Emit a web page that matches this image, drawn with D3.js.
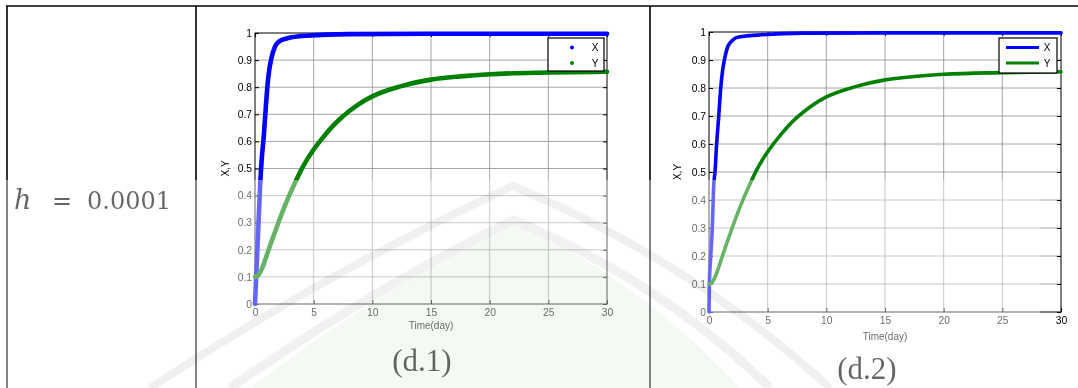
<!DOCTYPE html>
<html>
<head>
<meta charset="utf-8">
<script src="https://cdn.jsdelivr.net/npm/d3@7"></script>
<style>
  html, body { margin: 0; padding: 0; background: #fff; }
  svg { display: block; }
</style>
</head>
<body>
<svg id="page" width="1078" height="388"></svg>
<script>
// ---- data -------------------------------------------------------------
const timeTicks  = [0, 5, 10, 15, 20, 25, 30];
const valueTicks = [0, 0.1, 0.2, 0.3, 0.4, 0.5, 0.6, 0.7, 0.8, 0.9, 1];
const seriesNames = ["X", "Y"];
const stepLabel = "h = 0.0001";
const captions = ["(d.1)", "(d.2)"];

// panel (d.1)
const tX1 = [0, 0.1, 0.2, 0.3, 0.45, 0.6, 0.71, 0.88, 1.05, 1.2, 1.36, 1.7, 2.1, 2.7, 4.4, 8, 15, 30];
const vX1 = [0, 0.1, 0.2, 0.3, 0.45, 0.55, 0.6, 0.7, 0.8, 0.86, 0.9, 0.95, 0.97, 0.98, 0.99, 0.996, 0.997, 0.997];
const tY1 = [0, 0.25, 0.5, 0.75, 1.08, 1.5, 1.99, 2.45, 2.93, 3.5, 4.1, 5, 5.8, 6.66, 7.5, 8.7, 10, 12.4, 15, 17.5, 20, 25, 30];
const vY1 = [0.1, 0.105, 0.122, 0.148, 0.19, 0.242, 0.3, 0.352, 0.402, 0.456, 0.508, 0.57, 0.615, 0.658, 0.693, 0.733, 0.766, 0.803, 0.828, 0.84, 0.848, 0.854, 0.857];

// panel (d.2)
const tX2 = [0, 0.03, 0.15, 0.28, 0.4, 0.51, 0.65, 0.83, 1.0, 1.15, 1.31, 1.62, 2.0, 2.33, 3, 4.5, 8, 15, 30];
const vX2 = [0, 0.1, 0.2, 0.3, 0.45, 0.5, 0.6, 0.7, 0.8, 0.86, 0.9, 0.95, 0.97, 0.98, 0.985, 0.99, 0.996, 0.997, 0.997];
const tY2 = [0, 0.25, 0.5, 0.75, 1.08, 1.5, 1.99, 2.45, 2.93, 3.5, 4.1, 5, 5.8, 6.66, 7.5, 8.7, 10, 12.4, 15, 17.5, 20, 25, 30];
const vY2 = [0.1, 0.105, 0.123, 0.15, 0.192, 0.244, 0.302, 0.354, 0.404, 0.458, 0.51, 0.572, 0.617, 0.66, 0.695, 0.735, 0.768, 0.804, 0.829, 0.841, 0.849, 0.855, 0.858];

// ---- layout -----------------------------------------------------------
const svg = d3.select("#page");
const BLUE = "#0000ff", GREEN = "#008000";
const SANS = "'Liberation Sans', Arial, sans-serif";
const TICK_FONT = 10.3;

// table rules
const rules = svg.append("g").attr("stroke", "#000").attr("stroke-width", 1.6);
rules.append("line").attr("x1", 6).attr("x2", 1078).attr("y1", 6).attr("y2", 6);
[7, 196, 650].forEach(x => rules.append("line").attr("x1", x).attr("x2", x).attr("y1", 6).attr("y2", 388));

// row header (math style)
const hdr = svg.append("text").attr("y", 209).attr("font-family", "'DejaVu Serif', serif").attr("font-size", 24).attr("fill", "#000");
const parts = stepLabel.split(" ");
hdr.append("tspan").attr("x", 14).attr("font-style", "italic").attr("font-size", 27).text(parts[0]);
hdr.append("tspan").attr("x", 52).text(parts[1]);
hdr.append("tspan").attr("x", 87).text(parts[2]);

const panels = [
  { left: 255, right: 607, top: 33, bottom: 304, marker: "dot",
    series: [[tX1, vX1], [tY1, vY1]], lw: 4.6,
    ylabX: 225, xlabY: 329, capX: 422, capY: 371,
    legend: { x: 548, y: 38, w: 56, h: 33 } },
  { left: 709, right: 1061, top: 32, bottom: 312, marker: "line",
    series: [[tX2, vX2], [tY2, vY2]], lw: 3.6,
    ylabX: 677, xlabY: 340, capX: 867, capY: 379,
    legend: { x: 999, y: 38, w: 58, h: 35 } }
];

panels.forEach((p, pi) => {
  const x = d3.scaleLinear().domain([0, 30]).range([p.left, p.right]);
  const y = d3.scaleLinear().domain([0, 1]).range([p.bottom, p.top]);
  const g = svg.append("g");

  // grid
  const grid = g.append("g").attr("stroke", "#8e8e8e").attr("stroke-width", 0.8);
  timeTicks.slice(1, -1).forEach(t => grid.append("line")
    .attr("x1", x(t)).attr("x2", x(t)).attr("y1", p.top).attr("y2", p.bottom));
  valueTicks.slice(1, -1).forEach(v => grid.append("line")
    .attr("x1", p.left).attr("x2", p.right).attr("y1", y(v)).attr("y2", y(v)));

  // axes (ticks pointing inward, mirrored on top/right)
  const styleAxis = sel => {
    sel.select(".domain").remove();
    sel.selectAll("line").attr("stroke", "#000");
    sel.selectAll("text").attr("font-family", SANS).attr("font-size", TICK_FONT).attr("fill", "#000");
  };
  g.append("g").attr("transform", `translate(0,${p.bottom})`)
    .call(d3.axisBottom(x).tickValues(timeTicks).tickSize(-4).tickPadding(5).tickFormat(d3.format("d")))
    .call(styleAxis);
  g.append("g").attr("transform", `translate(${p.left},0)`)
    .call(d3.axisLeft(y).tickValues(valueTicks).tickSize(-4).tickPadding(3).tickFormat(d => d === 0 || d === 1 ? String(d) : d3.format(".1f")(d)))
    .call(styleAxis);
  g.append("g").attr("transform", `translate(0,${p.top})`)
    .call(d3.axisTop(x).tickValues(timeTicks).tickSize(-4).tickFormat(""))
    .call(styleAxis);
  g.append("g").attr("transform", `translate(${p.right},0)`)
    .call(d3.axisRight(y).tickValues(valueTicks).tickSize(-4).tickFormat(""))
    .call(styleAxis);

  g.append("rect").attr("x", p.left).attr("y", p.top)
    .attr("width", p.right - p.left).attr("height", p.bottom - p.top)
    .attr("fill", "none").attr("stroke", "#000").attr("stroke-width", 1);

  // axis titles
  g.append("text").attr("x", (p.left + p.right) / 2).attr("y", p.xlabY)
    .attr("text-anchor", "middle").attr("font-family", SANS).attr("font-size", 10).text("Time(day)");
  g.append("text").attr("transform", `translate(${p.ylabX},${(p.top + p.bottom) / 2}) rotate(-90)`)
    .attr("text-anchor", "middle").attr("dy", "0.35em").attr("font-family", SANS).attr("font-size", 10)
    .text(seriesNames.join(","));

  // curves
  const colors = [BLUE, GREEN];
  p.series.forEach(([ts, vs], i) => {
    const pts = ts.map((t, k) => [t, vs[k]]);
    g.append("path").datum(pts)
      .attr("fill", "none").attr("stroke", colors[i]).attr("stroke-width", p.lw)
      .attr("stroke-linecap", "round").attr("stroke-linejoin", "round")
      .attr("d", d3.line().x(d => x(d[0])).y(d => y(d[1])).curve(d3.curveMonotoneX));
  });

  // legend
  const L = p.legend;
  const lg = g.append("g");
  lg.append("rect").attr("x", L.x).attr("y", L.y).attr("width", L.w).attr("height", L.h)
    .attr("fill", "#fff").attr("stroke", "#000").attr("stroke-width", 1.2);
  seriesNames.forEach((name, i) => {
    const ry = L.y + 9.5 + i * 15.5;
    if (p.marker === "dot") {
      lg.append("circle").attr("cx", L.x + 24).attr("cy", ry).attr("r", 2).attr("fill", colors[i]);
      lg.append("text").attr("x", L.x + 47).attr("y", ry).attr("dy", "0.35em").attr("text-anchor", "middle")
        .attr("font-family", SANS).attr("font-size", 10).text(name);
    } else {
      lg.append("line").attr("x1", L.x + 7).attr("x2", L.x + 40).attr("y1", ry).attr("y2", ry)
        .attr("stroke", colors[i]).attr("stroke-width", 3);
      lg.append("text").attr("x", L.x + 48).attr("y", ry).attr("dy", "0.35em").attr("text-anchor", "middle")
        .attr("font-family", SANS).attr("font-size", 10).text(name);
    }
  });

  // caption
  svg.append("text").attr("x", p.capX).attr("y", p.capY).attr("text-anchor", "middle")
    .attr("font-family", "'Liberation Serif', 'Times New Roman', serif").attr("font-size", 31)
    .attr("fill", "#000").text(captions[pi]);
});

// ---- faded lower half with the library watermark ---------------------
svg.append("path")
  .attr("d", "M0,180H1078V388H0Z M1040,180V330H1078V180Z")
  .attr("fill-rule", "evenodd").attr("fill", "#fff").attr("fill-opacity", 0.4);

const wm = svg.append("g").style("mix-blend-mode", "multiply");
wm.append("path")
  .attr("d", "M250,388 Q380,290 513,222 Q640,280 740,388 Z")
  .attr("fill", "#f4f9f4");
wm.append("path")
  .attr("d", "M150,388 Q330,270 513,186 Q690,260 830,388")
  .attr("fill", "none").attr("stroke", "#f0f0f0").attr("stroke-width", 8);
wm.append("path")
  .attr("d", "M230,388 Q370,290 513,220 Q660,280 770,388")
  .attr("fill", "none").attr("stroke", "#f1f1f1").attr("stroke-width", 9);
</script>
</body>
</html>
